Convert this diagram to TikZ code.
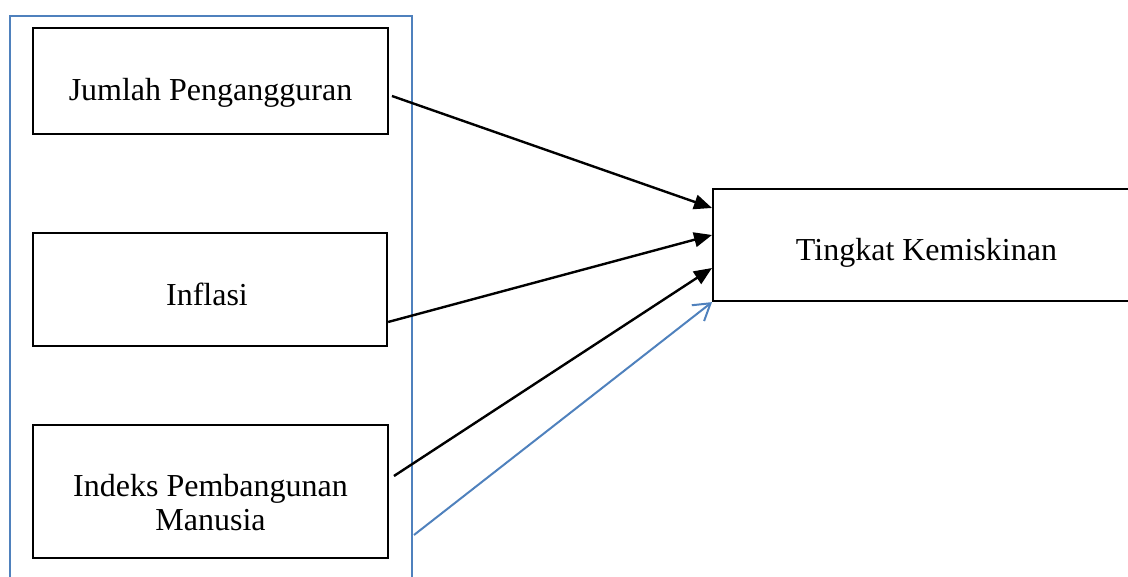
\documentclass[tikz,border=0pt]{standalone}
\usepackage{fontspec}
\setmainfont{Liberation Serif}
\usetikzlibrary{arrows.meta,calc}
\definecolor{frameblue}{RGB}{79,129,189}
\tikzset{
	varbox/.style={draw=black, line width=1.7pt, minimum width=#1},
	lbl/.style={anchor=base, font=\fontsize{24}{25.5}\selectfont, align=center},
	arr/.style={-{Triangle[length=13.5pt,width=11pt]}, line width=1.8pt},
	barr/.style={-{Straight Barb[length=12pt,width=15pt]}, draw=frameblue, line width=1.5pt}
}
\begin{document}
\begin{tikzpicture}[x=0.75pt, y=0.75pt]
		\useasboundingbox (0,0) rectangle (1128,577);

		% Frame round the independent variables
		\draw[frameblue, line width=1.5pt] (10,-10) -- (10,561) -- (412,561) -- (412,-10);

		% Variable boxes
		\node[varbox=266pt, minimum height=79.5pt] (jp) at (210.5,496) {};
		\node[varbox=265.5pt, minimum height=84.75pt] (inf) at (210,287.5) {};
		\node[varbox=266pt, minimum height=99.75pt] (ipm) at (210.5,85.5) {};
		\node[varbox=320pt, minimum height=84pt] (tk) at (926.5,332) {};

		% Labels
		\node[lbl] (jplbl) at ($(jp.center)+(0,-19.7)$) {Jumlah Pengangguran};
		\node[lbl] (inflbl) at ($(inf.center)+(-3,-16.5)$) {Inflasi};
		\node[lbl] (ipmlbl) at ($(ipm.center)+(0,-39.5)$) {Indeks Pembangunan\\Manusia};
		\node[lbl] (tklbl) at ($(tk.center)+(0,-16)$) {Tingkat Kemiskinan};

		% Arrows
		\draw[arr] ($(jp.east)+(3,-15)$) -- ($(tk.west)+(0,37)$);
		\draw[arr] ($(inf.east)+(0,-32.5)$) -- ($(tk.west)+(0,10)$);
		\draw[arr] ($(ipm.east)+(5,15.5)$) -- ($(tk.west)+(0,-23)$);
		\draw[barr] ($(ipm.east)+(25,-43.5)$) -- (tk.south west);
	\end{tikzpicture}
\end{document}
